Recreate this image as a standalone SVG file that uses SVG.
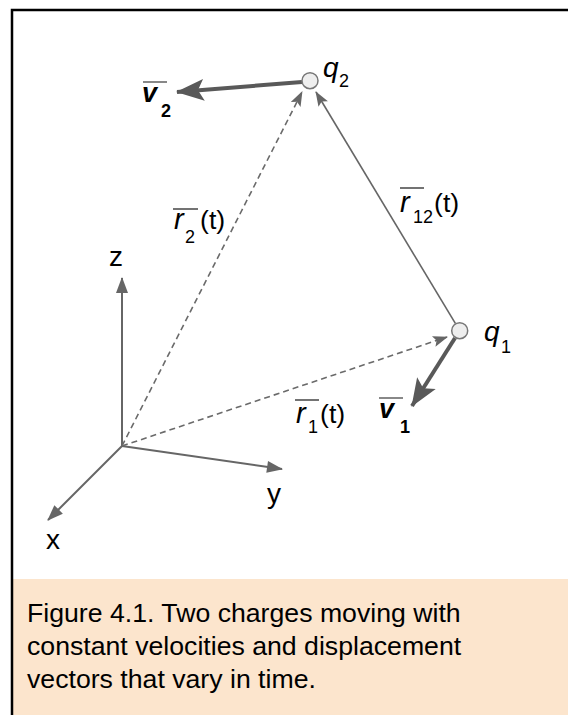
<svg xmlns="http://www.w3.org/2000/svg" width="568" height="715" viewBox="0 0 568 715">
<style>
.t{font-family:"Liberation Sans",Arial,sans-serif;font-size:26.67px;fill:#000}
.axl{font-size:28px}
.it{font-style:italic}
.rl{font-size:29px}
.sub{font-size:18px}
.vb{font-weight:bold;font-style:italic;font-size:27px}
.vs{font-weight:bold;font-size:18px}
.ax{stroke:#666;stroke-width:2;fill:none}
.dash{stroke:#6a6a6a;stroke-width:1.6;stroke-dasharray:6 4;fill:none}
.sol{stroke:#666;stroke-width:1.6;fill:none}
.vel{stroke:#595959;stroke-width:4;fill:none}
.bar{stroke:#444;stroke-width:1.5}
.vbar{stroke:#888;stroke-width:2}
.chg{fill:#eeeeee;stroke:#777;stroke-width:1.5}
</style>
<defs>
<marker id="axh" markerUnits="userSpaceOnUse" markerWidth="17" markerHeight="13" refX="15" refY="6" orient="auto" overflow="visible">
<path d="M0,0 L16,6 L0,12 z" fill="#666"/>
</marker>
<marker id="rh" markerUnits="userSpaceOnUse" markerWidth="16" markerHeight="12" refX="14" refY="5.5" orient="auto" overflow="visible">
<path d="M0,0 L15,5.5 L0,11 L3,5.5 z" fill="#666"/>
</marker>
<marker id="vh" markerUnits="userSpaceOnUse" markerWidth="30" markerHeight="24" refX="27" refY="11" orient="auto" overflow="visible">
<path d="M0,0 L28,11 L0,22 L6,11 z" fill="#595959"/>
</marker>
</defs>
<rect width="568" height="715" fill="#fff"/>
<rect x="13" y="579" width="555" height="136" fill="#fce5cd"/>
<path d="M12,715 V10 H568" fill="none" stroke="#000" stroke-width="2.5"/>

<g id="connectors">
<line class="ax" x1="122" y1="446" x2="122" y2="278" marker-end="url(#axh)"/>
<line class="ax" x1="122" y1="446" x2="282" y2="469" marker-end="url(#axh)"/>
<line class="ax" x1="122" y1="446" x2="48" y2="520" marker-end="url(#axh)"/>
<line class="dash" x1="122" y1="446" x2="447" y2="337" marker-end="url(#rh)"/>
<line class="dash" x1="122" y1="446" x2="302" y2="92" marker-end="url(#rh)"/>
<line class="sol" x1="455.5" y1="323.7" x2="316" y2="92" marker-end="url(#rh)"/>
<line class="vel" x1="302" y1="82" x2="177" y2="92" marker-end="url(#vh)"/>
<line class="vel" x1="455" y1="338" x2="412" y2="406" marker-end="url(#vh)"/>
</g>

<g id="q2">
<circle class="chg" cx="310" cy="80.7" r="8"/>
<text class="t it axl" x="323" y="77">q</text>
<text class="t sub" x="339" y="87">2</text>
</g>
<g id="q1">
<circle class="chg" cx="459.7" cy="330.7" r="8"/>
<text class="t it axl" x="484" y="341">q</text>
<text class="t sub" x="501" y="353">1</text>
</g>

<g id="axis-labels">
<text class="t axl" x="109" y="266">z</text>
<text class="t axl" x="267" y="503">y</text>
<text class="t axl" x="46" y="549">x</text>
</g>

<g id="v2-label">
<line class="vbar" x1="143" y1="82" x2="167" y2="82"/>
<text class="vb t" x="142" y="102">v</text>
<text class="vs t" x="161" y="117">2</text>
</g>
<g id="v1-label">
<line class="vbar" x1="379" y1="398" x2="403" y2="398"/>
<text class="vb t" x="379" y="418">v</text>
<text class="vs t" x="400" y="433">1</text>
</g>

<g id="r2-label">
<line class="bar" x1="173" y1="209" x2="198" y2="209"/>
<text class="t it rl" x="174" y="229">r</text>
<text class="t sub" x="185" y="243">2</text>
<text class="t" x="200" y="229">(t)</text>
</g>
<g id="r12-label">
<line class="bar" x1="400" y1="188" x2="424" y2="188"/>
<text class="t it rl" x="400" y="212">r</text>
<text class="t sub" x="413" y="223">12</text>
<text class="t" x="434" y="212">(t)</text>
</g>
<g id="r1-label">
<line class="bar" x1="295" y1="400" x2="319" y2="400"/>
<text class="t it rl" x="296" y="423">r</text>
<text class="t sub" x="308" y="433">1</text>
<text class="t" x="320" y="423">(t)</text>
</g>

<g id="caption">
<text class="t" x="27" y="622">Figure 4.1. Two charges moving with</text>
<text class="t" x="27" y="655">constant velocities and displacement</text>
<text class="t" x="27" y="688">vectors that vary in time.</text>
</g>
</svg>
